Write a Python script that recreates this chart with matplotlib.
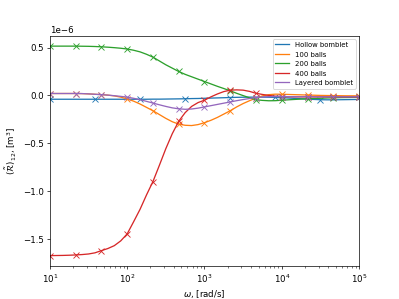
import numpy as np
import matplotlib.pyplot as plt

# frequency grid, 1/12 decade from 10 to 1e5 rad/s
omega = np.logspace(1, 5, 49)

# values in units of 1e-6 m^3
hollow = [-0.040, -0.040, -0.040, -0.040, -0.040, -0.040, -0.040, -0.040,
          -0.040, -0.040, -0.040, -0.040, -0.040, -0.040, -0.040, -0.040,
          -0.039, -0.039, -0.038, -0.037, -0.036, -0.035, -0.033, -0.032,
          -0.030, -0.028, -0.026, -0.024, -0.022, -0.020, -0.019, -0.018,
          -0.018, -0.018, -0.019, -0.021, -0.024, -0.027, -0.031, -0.035,
          -0.039, -0.042, -0.045, -0.046, -0.046, -0.045, -0.044, -0.043,
          -0.042]

balls100 = [0.020, 0.020, 0.020, 0.020, 0.020, 0.019, 0.016, 0.012,
            0.008, 0.003, -0.005, -0.018, -0.037, -0.060, -0.090, -0.125,
            -0.160, -0.200, -0.240, -0.275, -0.300, -0.312, -0.315, -0.305,
            -0.285, -0.260, -0.230, -0.195, -0.160, -0.120, -0.085, -0.055,
            -0.028, -0.005, 0.008, 0.013, 0.012, 0.010, 0.008, 0.006,
            0.004, 0.002, 0.000, -0.001, -0.002, -0.003, -0.004, -0.004,
            -0.005]

balls200 = [0.515, 0.515, 0.515, 0.515, 0.515, 0.514, 0.513, 0.511,
            0.508, 0.504, 0.499, 0.493, 0.485, 0.472, 0.455, 0.430,
            0.400, 0.360, 0.320, 0.285, 0.250, 0.220, 0.195, 0.170,
            0.145, 0.120, 0.095, 0.072, 0.048, 0.022, -0.002, -0.025,
            -0.045, -0.052, -0.056, -0.055, -0.050, -0.046, -0.042, -0.038,
            -0.035, -0.032, -0.030, -0.027, -0.025, -0.023, -0.022, -0.021,
            -0.020]

balls400 = [-1.674, -1.673, -1.672, -1.670, -1.667, -1.663, -1.657, -1.645,
            -1.622, -1.600, -1.570, -1.520, -1.447, -1.320, -1.190, -1.040,
            -0.900, -0.730, -0.556, -0.400, -0.270, -0.180, -0.115, -0.075,
            -0.050, -0.015, 0.015, 0.040, 0.055, 0.058, 0.055, 0.042,
            0.022, 0.010, 0.000, -0.008, -0.012, -0.014, -0.015, -0.015,
            -0.015, -0.015, -0.015, -0.015, -0.015, -0.015, -0.015, -0.015,
            -0.015]

layered = [0.020, 0.020, 0.020, 0.020, 0.020, 0.019, 0.016, 0.012,
           0.008, 0.003, -0.003, -0.010, -0.018, -0.030, -0.045, -0.062,
           -0.080, -0.098, -0.115, -0.130, -0.140, -0.145, -0.142, -0.133,
           -0.120, -0.107, -0.094, -0.081, -0.068, -0.055, -0.043, -0.032,
           -0.022, -0.016, -0.013, -0.012, -0.012, -0.013, -0.013, -0.014,
           -0.014, -0.015, -0.015, -0.015, -0.015, -0.015, -0.015, -0.015,
           -0.015]

labels = ["Hollow bomblet", "100 balls", "200 balls", "400 balls", "Layered bomblet"]
series = [hollow, balls100, balls200, balls400, layered]
mark_every = [7, 4, 4, 4, 4]

fig, ax = plt.subplots(figsize=(6.4, 4.8), dpi=399 / 6.4)

for vals, lab, me in zip(series, labels, mark_every):
    y = np.array(vals) * 1e-6
    line, = ax.plot(omega, y, label=lab)
    ax.plot(omega[::me], y[::me], "x", color=line.get_color())

ax.set_xscale("log")
ax.set_xlim(10, 1e5)
ax.set_xlabel(r"$\omega$, [rad/s]")
ax.set_ylabel(r"$(\tilde{\mathcal{R}})_{12}$, [m$^3$]")
ax.legend(loc="upper right", fontsize=8)

fig.savefig("out.png", dpi=399 / 6.4)
